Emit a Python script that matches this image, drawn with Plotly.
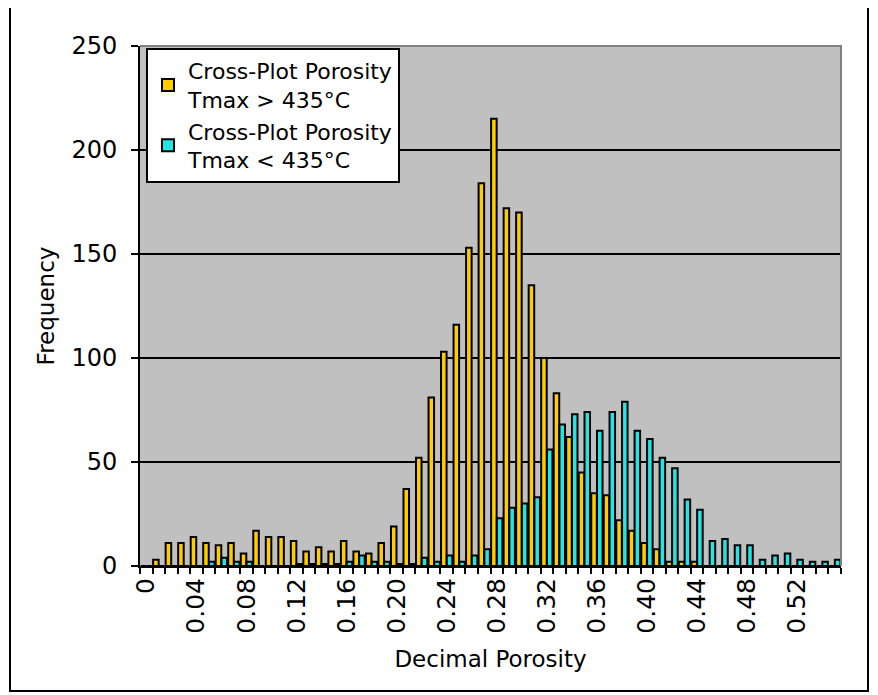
import plotly.graph_objects as go

categories = ["0", "0.01", "0.02", "0.03", "0.04", "0.05", "0.06", "0.07", "0.08", "0.09",
              "0.10", "0.11", "0.12", "0.13", "0.14", "0.15", "0.16", "0.17", "0.18", "0.19",
              "0.20", "0.21", "0.22", "0.23", "0.24", "0.25", "0.26", "0.27", "0.28", "0.29",
              "0.30", "0.31", "0.32", "0.33", "0.34", "0.35", "0.36", "0.37", "0.38", "0.39",
              "0.40", "0.41", "0.42", "0.43", "0.44", "0.45", "0.46", "0.47", "0.48", "0.49",
              "0.50", "0.51", "0.52", "0.53", "0.54", "0.55"]

tick_text = ["0", "", "", "", "0.04", "", "", "", "0.08", "",
             "", "", "0.12", "", "", "", "0.16", "", "", "",
             "0.20", "", "", "", "0.24", "", "", "", "0.28", "",
             "", "", "0.32", "", "", "", "0.36", "", "", "",
             "0.40", "", "", "", "0.44", "", "", "", "0.48", "",
             "", "", "0.52", "", "", ""]

tmax_above = [0, 3, 11, 11, 14, 11, 10, 11, 6, 17,
              14, 14, 12, 7, 9, 7, 12, 7, 6, 11,
              19, 37, 52, 81, 103, 116, 153, 184, 215, 172,
              170, 135, 100, 83, 62, 45, 35, 34, 22, 17,
              11, 8, 2, 2, 2, 0, 0, 0, 0, 0,
              0, 0, 0, 0, 0, 0]

tmax_below = [0, 0, 0, 0, 0, 2, 4, 2, 2, 0,
              0, 0, 1, 1, 1, 1, 2, 5, 2, 2,
              1, 1, 4, 2, 5, 2, 5, 8, 23, 28,
              30, 33, 56, 68, 73, 74, 65, 74, 79, 65,
              61, 52, 47, 32, 27, 12, 13, 10, 10, 3,
              5, 6, 3, 2, 2, 3]

FONT = "DejaVu Sans"

fig = go.Figure()
fig.add_bar(x=categories, y=tmax_above,
            name="Cross-Plot Porosity<br>Tmax > 435°C",
            marker=dict(color="#FFCC00", line=dict(color="black", width=2)))
fig.add_bar(x=categories, y=tmax_below,
            name="Cross-Plot Porosity<br>Tmax < 435°C",
            marker=dict(color="#22E5E5", line=dict(color="black", width=2)))

# page has an 8px body margin; figure placed at (8, 8)
OFF = 8
W, H = 870, 687
# plot area in page pixels: x 140..841, y 46..566
L, T = 140 - OFF, 46 - OFF
R = W - (841 - OFF)
B = H - (566 - OFF)
pw, ph = W - L - R, H - T - B

def px(xpage):
    return (xpage - OFF - L) / pw

def py(ypage):
    return (H - B - (ypage - OFF)) / ph

fig.update_layout(
    width=W, height=H,
    margin=dict(l=L, r=R, t=T, b=B, autoexpand=False),
    paper_bgcolor="white",
    plot_bgcolor="#C0C0C0",
    font=dict(family=FONT, size=23, color="black"),
    barmode="group",
    bargap=0.08,
    bargroupgap=0.04,
    showlegend=True,
    legend=dict(x=px(146), y=py(48), xanchor="left", yanchor="top",
                bgcolor="white", bordercolor="black", borderwidth=2,
                font=dict(family=FONT, size=22, color="black"),
                tracegroupgap=0, itemwidth=30),
    xaxis=dict(type="category", tickmode="array", tickvals=categories, ticktext=tick_text,
               tickangle=-90, ticks="outside", ticklen=6, tickwidth=2, tickcolor="black",
               tickson="boundaries", showline=True, linecolor="black", linewidth=2,
               showgrid=False, range=[-0.5, 55.5], automargin=False,
               tickfont=dict(family=FONT, size=25),
               title=dict(text="Decimal Porosity", standoff=18,
                          font=dict(family=FONT, size=23))),
    yaxis=dict(range=[0, 250], dtick=50, tick0=0, showgrid=True, gridcolor="black", gridwidth=2,
               showline=True, linecolor="black", linewidth=2, zeroline=False,
               ticks="outside", ticklen=7, tickwidth=2, tickcolor="black", automargin=False,
               ticklabelstandoff=9,
               tickfont=dict(family=FONT, size=24),
               title=dict(text="Frequency", standoff=10,
                          font=dict(family=FONT, size=23))),
    shapes=[
        dict(type="path", xref="paper", yref="paper",
             path="M 0,1 L 1,1 L 1,0", line=dict(color="#808080", width=2), layer="above"),
        dict(type="rect", xref="paper", yref="paper",
             x0=px(10), x1=px(868), y0=py(691), y1=py(7),
             line=dict(color="black", width=2), layer="above"),
    ],
)

fig.write_html("out.html")
